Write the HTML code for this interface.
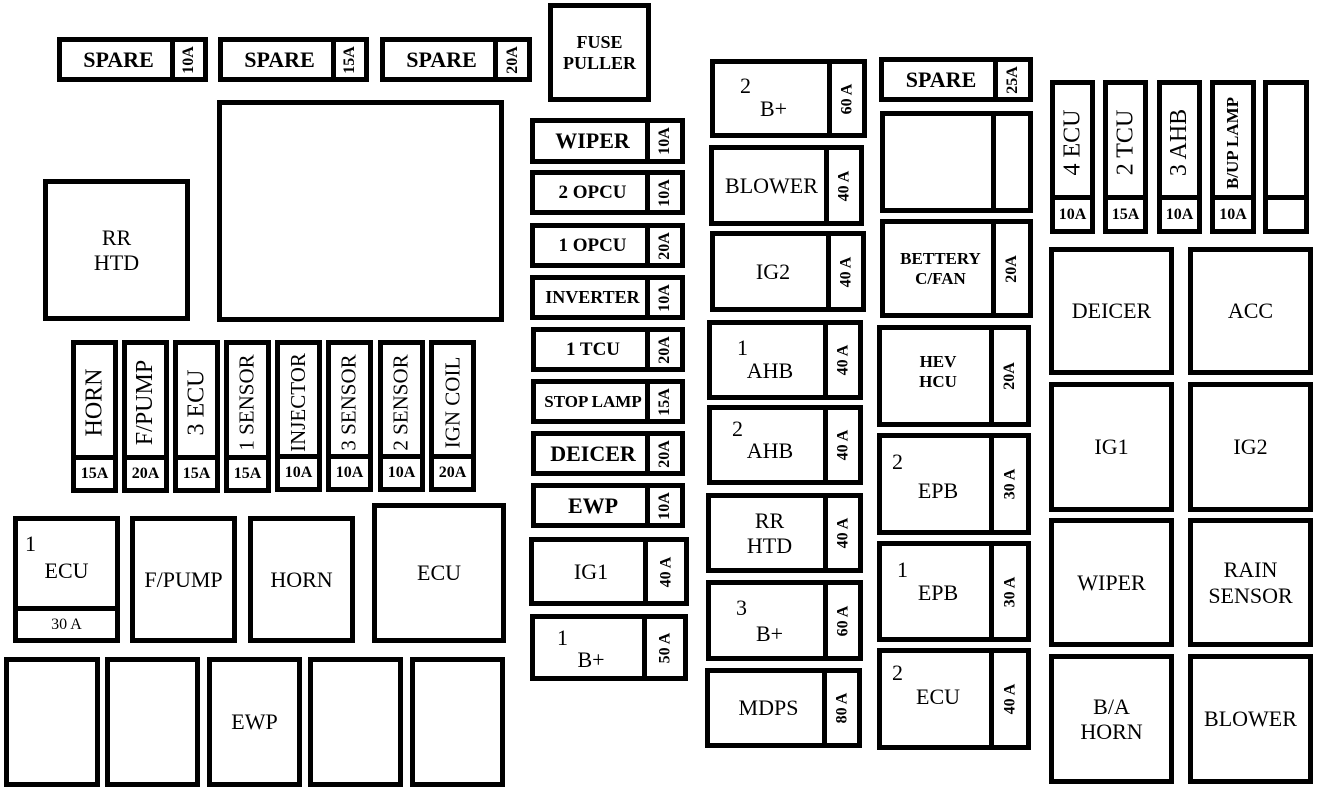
<!DOCTYPE html>
<html><head><meta charset="utf-8"><style>
body{margin:0;width:1318px;height:787px;background:#fff;position:relative;overflow:hidden;font-family:"Liberation Serif",serif;color:#000}
.b{position:absolute;border:5px solid #000;box-sizing:border-box}
.l{position:absolute;left:0;top:0;bottom:0;display:flex;align-items:center;justify-content:center;text-align:center;line-height:1.15;font-size:22px}
.a{position:absolute;right:0;top:0;bottom:0;border-left:5px solid #000;display:flex;align-items:center;justify-content:center}
.a span,.v span{transform:rotate(-90deg);white-space:nowrap;display:block}
.a span{font-size:16px;font-weight:bold}
.bt{position:absolute;left:0;right:0;bottom:0;border-top:5px solid #000;display:flex;align-items:center;justify-content:center;font-size:16px;font-weight:bold}
.v{position:absolute;left:0;right:0;top:0;display:flex;align-items:center;justify-content:center;font-size:24px}
.s{font-size:21px}
.n{position:absolute;font-size:22px}
.bd{font-weight:bold}
.c{display:flex;align-items:center;justify-content:center;text-align:center;font-size:22px;line-height:1.15}
</style></head><body>

<div class="b" style="left:57px;top:37px;width:151px;height:45px"><div class="l bd" style="right:28px">SPARE</div><div class="a" style="width:28px"><span>10A</span></div></div>
<div class="b" style="left:218px;top:37px;width:151px;height:45px"><div class="l bd" style="right:28px">SPARE</div><div class="a" style="width:28px"><span>15A</span></div></div>
<div class="b" style="left:380px;top:37px;width:152px;height:45px"><div class="l bd" style="right:29px">SPARE</div><div class="a" style="width:29px"><span>20A</span></div></div>
<div class="b c bd" style="left:548px;top:3px;width:103px;height:99px;font-size:18px">FUSE<br>PULLER</div>
<div class="b" style="left:217px;top:100px;width:287px;height:222px"></div>
<div class="b c" style="left:43px;top:179px;width:147px;height:142px">RR<br>HTD</div>

<div class="b" style="left:71px;top:340px;width:47px;height:153px"><div class="v" style="bottom:28px"><span>HORN</span></div><div class="bt" style="height:28px">15A</div></div>
<div class="b" style="left:122px;top:340px;width:47px;height:153px"><div class="v" style="bottom:28px"><span>F/PUMP</span></div><div class="bt" style="height:28px">20A</div></div>
<div class="b" style="left:173px;top:340px;width:47px;height:153px"><div class="v" style="bottom:28px"><span>3 ECU</span></div><div class="bt" style="height:28px">15A</div></div>
<div class="b" style="left:224px;top:340px;width:47px;height:153px"><div class="v s" style="bottom:28px"><span>1 SENSOR</span></div><div class="bt" style="height:28px">15A</div></div>
<div class="b" style="left:275px;top:340px;width:47px;height:152px"><div class="v s" style="bottom:28px"><span>INJECTOR</span></div><div class="bt" style="height:28px">10A</div></div>
<div class="b" style="left:326px;top:340px;width:47px;height:152px"><div class="v s" style="bottom:28px"><span>3 SENSOR</span></div><div class="bt" style="height:28px">10A</div></div>
<div class="b" style="left:378px;top:340px;width:47px;height:152px"><div class="v s" style="bottom:28px"><span>2 SENSOR</span></div><div class="bt" style="height:28px">10A</div></div>
<div class="b" style="left:429px;top:340px;width:47px;height:152px"><div class="v s" style="bottom:28px"><span>IGN COIL</span></div><div class="bt" style="height:28px">20A</div></div>

<div class="b" style="left:13px;top:516px;width:107px;height:127px"><div class="n" style="left:7px;top:10px">1</div><div class="l" style="right:0;bottom:26px;padding-top:8px">ECU</div><div class="bt" style="height:27px;font-weight:normal">30 A</div></div>
<div class="b c" style="left:130px;top:516px;width:107px;height:127px">F/PUMP</div>
<div class="b c" style="left:248px;top:516px;width:107px;height:127px">HORN</div>
<div class="b c" style="left:372px;top:503px;width:134px;height:140px">ECU</div>

<div class="b" style="left:4px;top:657px;width:96px;height:130px"></div>
<div class="b" style="left:105px;top:657px;width:95px;height:130px"></div>
<div class="b c" style="left:207px;top:657px;width:95px;height:130px">EWP</div>
<div class="b" style="left:308px;top:657px;width:95px;height:130px"></div>
<div class="b" style="left:410px;top:657px;width:95px;height:130px"></div>

<div class="b" style="left:530px;top:118px;width:155px;height:46px"><div class="l bd" style="right:30px">WIPER</div><div class="a" style="width:30px"><span>10A</span></div></div>
<div class="b" style="left:530px;top:170px;width:155px;height:45px"><div class="l bd" style="right:30px;font-size:19px">2 OPCU</div><div class="a" style="width:30px"><span>10A</span></div></div>
<div class="b" style="left:530px;top:223px;width:155px;height:45px"><div class="l bd" style="right:30px;font-size:19px">1 OPCU</div><div class="a" style="width:30px"><span>20A</span></div></div>
<div class="b" style="left:530px;top:275px;width:155px;height:45px"><div class="l bd" style="right:30px;font-size:18px">INVERTER</div><div class="a" style="width:30px"><span>10A</span></div></div>
<div class="b" style="left:531px;top:327px;width:154px;height:45px"><div class="l bd" style="right:30px;font-size:19px">1 TCU</div><div class="a" style="width:30px"><span>20A</span></div></div>
<div class="b" style="left:531px;top:379px;width:154px;height:45px"><div class="l bd" style="right:30px;font-size:17px">STOP LAMP</div><div class="a" style="width:30px"><span>15A</span></div></div>
<div class="b" style="left:531px;top:431px;width:154px;height:45px"><div class="l bd" style="right:30px">DEICER</div><div class="a" style="width:30px"><span>20A</span></div></div>
<div class="b" style="left:531px;top:483px;width:154px;height:45px"><div class="l bd" style="right:30px">EWP</div><div class="a" style="width:30px"><span>10A</span></div></div>
<div class="b" style="left:529px;top:537px;width:160px;height:69px"><div class="l" style="right:36px">IG1</div><div class="a" style="width:36px"><span>40 A</span></div></div>
<div class="b" style="left:530px;top:614px;width:158px;height:67px"><div class="n" style="left:22px;top:6px">1</div><div class="l" style="right:36px;padding-top:24px">B+</div><div class="a" style="width:36px"><span>50 A</span></div></div>

<div class="b" style="left:710px;top:59px;width:157px;height:79px"><div class="n" style="left:25px;top:9px">2</div><div class="l" style="right:30px;padding-top:20px">B+</div><div class="a" style="width:30px"><span>60 A</span></div></div>
<div class="b" style="left:709px;top:145px;width:155px;height:81px"><div class="l" style="right:30px">BLOWER</div><div class="a" style="width:30px"><span>40 A</span></div></div>
<div class="b" style="left:710px;top:231px;width:156px;height:81px"><div class="l" style="right:30px">IG2</div><div class="a" style="width:30px"><span>40 A</span></div></div>
<div class="b" style="left:707px;top:320px;width:156px;height:80px"><div class="n" style="left:25px;top:10px">1</div><div class="l" style="right:30px;padding-top:22px">AHB</div><div class="a" style="width:30px"><span>40 A</span></div></div>
<div class="b" style="left:707px;top:405px;width:156px;height:80px"><div class="n" style="left:20px;top:6px">2</div><div class="l" style="right:30px;padding-top:12px">AHB</div><div class="a" style="width:30px"><span>40 A</span></div></div>
<div class="b" style="left:706px;top:493px;width:157px;height:80px"><div class="l" style="right:30px">RR<br>HTD</div><div class="a" style="width:30px"><span>40 A</span></div></div>
<div class="b" style="left:706px;top:580px;width:157px;height:81px"><div class="n" style="left:25px;top:10px">3</div><div class="l" style="right:30px;padding-top:26px">B+</div><div class="a" style="width:30px"><span>60 A</span></div></div>
<div class="b" style="left:705px;top:668px;width:157px;height:80px"><div class="l" style="right:30px">MDPS</div><div class="a" style="width:30px"><span>80 A</span></div></div>

<div class="b" style="left:879px;top:57px;width:154px;height:45px"><div class="l bd" style="right:30px">SPARE</div><div class="a" style="width:30px"><span>25A</span></div></div>
<div class="b" style="left:880px;top:111px;width:153px;height:102px"><div class="a" style="width:32px"></div></div>
<div class="b" style="left:880px;top:219px;width:153px;height:99px"><div class="l bd" style="right:32px;font-size:17px">BETTERY<br>C/FAN</div><div class="a" style="width:32px"><span>20A</span></div></div>
<div class="b" style="left:877px;top:325px;width:154px;height:102px"><div class="l bd" style="right:32px;font-size:17px;padding-bottom:8px">HEV<br>HCU</div><div class="a" style="width:32px"><span>20A</span></div></div>
<div class="b" style="left:877px;top:433px;width:154px;height:102px"><div class="n" style="left:10px;top:11px">2</div><div class="l" style="right:32px;padding-top:14px">EPB</div><div class="a" style="width:32px"><span>30 A</span></div></div>
<div class="b" style="left:877px;top:541px;width:154px;height:101px"><div class="n" style="left:15px;top:11px">1</div><div class="l" style="right:32px;padding-top:2px">EPB</div><div class="a" style="width:32px"><span>30 A</span></div></div>
<div class="b" style="left:877px;top:648px;width:154px;height:102px"><div class="n" style="left:10px;top:7px">2</div><div class="l" style="right:32px;padding-bottom:4px">ECU</div><div class="a" style="width:32px"><span>40 A</span></div></div>

<div class="b" style="left:1050px;top:80px;width:45px;height:154px"><div class="v" style="bottom:29px"><span>4 ECU</span></div><div class="bt" style="height:29px">10A</div></div>
<div class="b" style="left:1103px;top:80px;width:45px;height:154px"><div class="v" style="bottom:29px"><span>2 TCU</span></div><div class="bt" style="height:29px">15A</div></div>
<div class="b" style="left:1157px;top:80px;width:45px;height:154px"><div class="v" style="bottom:29px"><span>3 AHB</span></div><div class="bt" style="height:29px">10A</div></div>
<div class="b" style="left:1210px;top:80px;width:46px;height:154px"><div class="v bd" style="bottom:29px;font-size:17px"><span>B/UP LAMP</span></div><div class="bt" style="height:29px">10A</div></div>
<div class="b" style="left:1263px;top:80px;width:46px;height:154px"><div class="bt" style="height:29px"></div></div>

<div class="b c" style="left:1049px;top:247px;width:125px;height:128px">DEICER</div>
<div class="b c" style="left:1188px;top:247px;width:125px;height:128px">ACC</div>
<div class="b c" style="left:1049px;top:382px;width:125px;height:130px">IG1</div>
<div class="b c" style="left:1188px;top:382px;width:125px;height:130px">IG2</div>
<div class="b c" style="left:1049px;top:518px;width:125px;height:129px">WIPER</div>
<div class="b c" style="left:1188px;top:518px;width:125px;height:129px">RAIN<br>SENSOR</div>
<div class="b c" style="left:1049px;top:654px;width:125px;height:130px">B/A<br>HORN</div>
<div class="b c" style="left:1188px;top:654px;width:125px;height:130px">BLOWER</div>

</body></html>
